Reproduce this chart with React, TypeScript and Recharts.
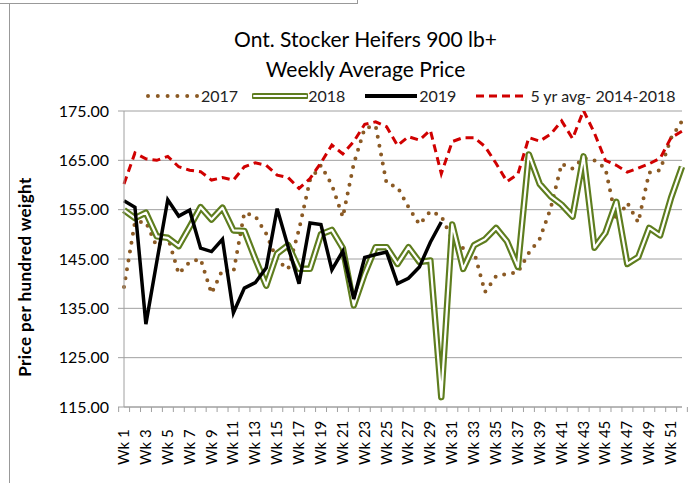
import { LineChart, Line, XAxis, YAxis, CartesianGrid } from "recharts";

const W = 691;
const H = 483;
const FONT = "Lato, 'Open Sans', sans-serif";

const BROWN = "#8B5A24";
const GREEN = "#5E7D1E";
const RED = "#D00000";
const GRID = "#A0A0A0";

// week labels on the category axis
const weeks = Array.from({ length: 52 }, (_, i) => `Wk ${i + 1}`);
const yTicks = [115, 125, 135, 145, 155, 165, 175];

// $/cwt
const y2017 = [
  139.3, 152.5, 152.5, 147.5, 149.5, 142.0, 144.4, 145.0, 138.0, 142.8,
  142.3, 154.4, 153.7, 150.1, 144.7, 142.9, 151.0, 161.0, 164.0, 160.0,
  153.5, 164.3, 171.5, 172.0, 160.3, 159.6, 155.5, 152.0, 154.7, 153.7,
  149.0, 147.2, 146.4, 138.3, 141.5, 142.0, 142.3, 146.2, 149.1, 155.3,
  164.3, 163.3, 165.5, 165.0, 163.4, 152.8, 156.4, 152.4, 162.5, 163.0,
  169.5, 173.0,
];

const y2018 = [
  154.9, 153.3, 154.4, 149.6, 149.3, 147.6, 151.5, 155.5, 153.0, 155.4,
  150.8, 150.7, 145.0, 139.6, 146.1, 147.8, 143.0, 143.0, 150.0, 150.9,
  147.2, 135.6, 142.0, 147.4, 147.4, 144.0, 147.4, 144.4, 144.7, 117.0,
  152.0, 143.0, 147.8, 149.0, 151.3, 148.6, 143.4, 166.2, 160.2, 157.7,
  156.0, 153.6, 165.8, 147.3, 150.3, 156.6, 144.0, 145.4, 151.3, 149.8,
  157.4, 163.7,
];

const y2019 = [
  156.8, 155.5, 131.8, 144.5, 157.0, 153.7, 154.9, 147.2, 146.5, 149.0,
  134.1, 139.1, 140.2, 143.2, 155.2, 147.5, 140.0, 152.3, 152.0, 142.8,
  146.6, 136.9, 145.3, 145.9, 146.4, 140.0, 141.1, 143.4, 148.4, 152.5,
];

const avg5yr = [
  160.2, 166.5, 165.3, 165.0, 165.8, 163.7, 163.0, 162.7, 161.0, 161.5,
  161.0, 163.7, 164.5, 164.0, 162.0, 161.5, 159.3, 161.3, 164.5, 168.1,
  166.3, 168.8, 172.3, 172.8, 171.8, 168.0, 169.8, 169.1, 171.1, 162.3,
  168.8, 169.6, 169.6, 167.8, 164.4, 160.7, 162.2, 169.6, 168.9, 170.3,
  173.0, 169.4, 175.1, 170.5, 165.0, 164.0, 162.6, 163.4, 164.3, 165.4,
  169.6, 170.9,
];

const data = weeks.map((week, i) => ({
  week,
  y2017: y2017[i],
  y2018: y2018[i],
  y2019: i < y2019.length ? y2019[i] : null,
  avg: avg5yr[i],
}));

const PLOT_LEFT = 124;
const PLOT_RIGHT = 682;
const PLOT_TOP = 111;
const PLOT_BOTTOM = 407;
const BAND = (PLOT_RIGHT - PLOT_LEFT) / weeks.length;

function WeekTick(props: any) {
  const { x, y, payload, index } = props;
  const half = BAND / 2;
  return (
    <g>
      <line x1={x - half} x2={x - half} y1={y} y2={y + 5} stroke={GRID} />
      {index === weeks.length - 1 && (
        <line x1={x + half} x2={x + half} y1={y} y2={y + 5} stroke={GRID} />
      )}
      {index % 2 === 0 && (
        <text
          transform={`translate(${x + 5},${y + 58}) rotate(-90)`}
          textAnchor="start"
          fontSize={15}
          fontFamily={FONT}
          fill="#000"
        >
          {payload.value}
        </text>
      )}
    </g>
  );
}

function LegendSwatch({ kind }: { kind: string }) {
  return (
    <svg width={56} height={12} style={{ verticalAlign: "middle" }}>
      {kind === "2017" && (
        <line x1={3} x2={53} y1={6} y2={6} stroke={BROWN} strokeWidth={4}
          strokeDasharray="0 9.8" strokeLinecap="round" />
      )}
      {kind === "2018" && (
        <>
          <line x1={2} x2={54} y1={6} y2={6} stroke={GREEN} strokeWidth={6} strokeLinecap="round" />
          <line x1={2} x2={54} y1={6} y2={6} stroke="#fff" strokeWidth={2} strokeLinecap="round" />
        </>
      )}
      {kind === "2019" && (
        <line x1={2} x2={54} y1={6} y2={6} stroke="#000" strokeWidth={4} />
      )}
      {kind === "avg" && (
        <line x1={2} x2={54} y1={6} y2={6} stroke={RED} strokeWidth={3} strokeDasharray="8 5" />
      )}
    </svg>
  );
}

export default function App() {
  return (
    <div style={{ position: "absolute", left: 0, top: 0, width: W, height: H, background: "#fff", fontFamily: FONT }}>
      {/* spreadsheet cell borders */}
      <div style={{ position: "absolute", left: 0, top: 3, width: 357, height: 1, background: "#999" }} />
      <div style={{ position: "absolute", left: 357, top: 0, width: 1, height: 4, background: "#999" }} />
      <div style={{ position: "absolute", left: 9, top: 3, width: 1, height: H - 3, background: "#999" }} />

      <div style={{ position: "absolute", left: 0, width: W, top: 24, textAlign: "center", fontSize: 21, lineHeight: "30px", color: "#000" }}>
        <div style={{ paddingLeft: 40 }}>Ont. Stocker Heifers 900 lb+</div>
        <div style={{ paddingLeft: 40 }}>Weekly Average Price</div>
      </div>

      <div style={{ position: "absolute", left: 145, top: 86, display: "flex", alignItems: "center", fontSize: 16, color: "#222", whiteSpace: "nowrap" }}>
        <LegendSwatch kind="2017" /><span style={{ marginRight: 14 }}>2017</span>
        <LegendSwatch kind="2018" /><span style={{ marginRight: 18 }}>2018</span>
        <LegendSwatch kind="2019" /><span style={{ marginRight: 18 }}>2019</span>
        <LegendSwatch kind="avg" /><span>5 yr avg- 2014-2018</span>
      </div>

      <div style={{ position: "absolute", left: 24, top: 277, width: 0, height: 0 }}>
        <div style={{ position: "absolute", transform: "translate(-50%, -50%) rotate(-90deg)", whiteSpace: "nowrap", fontSize: 17, fontWeight: 700, letterSpacing: 0.4, color: "#000" }}>
          Price per hundred weight
        </div>
      </div>

      <LineChart
        width={W}
        height={H}
        data={data}
        margin={{ top: PLOT_TOP, right: W - PLOT_RIGHT, bottom: 0, left: 0 }}
      >
        <CartesianGrid vertical={false} stroke={GRID} strokeWidth={1} />
        <XAxis
          dataKey="week"
          interval={0}
          height={H - PLOT_BOTTOM}
          stroke={GRID}
          tickLine={false}
          tickSize={0}
          tickMargin={0}
          tick={<WeekTick />}
        />
        <YAxis
          domain={[115, 175]}
          ticks={yTicks}
          width={PLOT_LEFT}
          stroke={GRID}
          tickSize={6}
          tickMargin={9}
          tickFormatter={(v: number) => v.toFixed(2)}
          tick={{ fill: "#000", fontSize: 16, fontFamily: FONT }}
          allowDataOverflow
        />
        <Line dataKey="y2017" type="linear" stroke={BROWN} strokeWidth={4}
          strokeDasharray="0 9" strokeLinecap="round" dot={false} isAnimationActive={false} />
        <Line dataKey="y2018" type="linear" stroke={GREEN} strokeWidth={6.5}
          strokeLinejoin="round" dot={false} isAnimationActive={false} />
        <Line dataKey="y2018" type="linear" stroke="#fff" strokeWidth={2.2}
          strokeLinejoin="round" dot={false} isAnimationActive={false} />
        <Line dataKey="y2019" type="linear" stroke="#000" strokeWidth={3.5}
          dot={false} isAnimationActive={false} />
        <Line dataKey="avg" type="linear" stroke={RED} strokeWidth={3}
          strokeDasharray="8 5" dot={false} isAnimationActive={false} />
      </LineChart>
    </div>
  );
}
